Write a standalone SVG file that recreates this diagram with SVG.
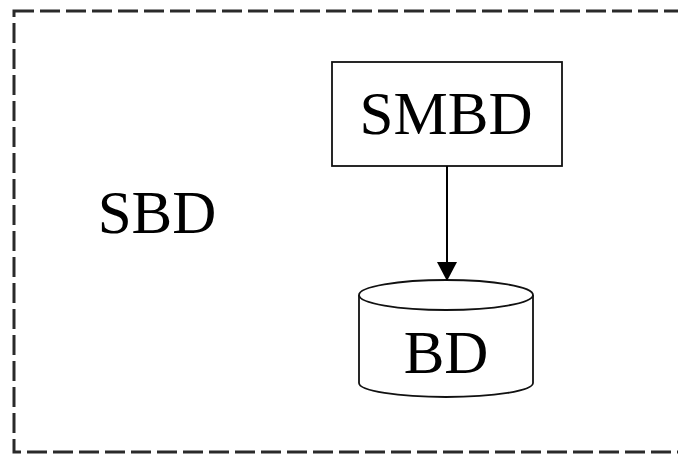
<svg xmlns="http://www.w3.org/2000/svg" width="678" height="454" viewBox="0 0 678 454">
<defs>
<style>
.lbl{font-family:"Liberation Serif","Times New Roman",serif;font-size:61px;fill:#000;text-anchor:middle}
.shape{fill:#fff;stroke:#111;stroke-width:1.8}
.conn{stroke:#000;stroke-width:2;fill:none}
</style>
<marker id="arrow" markerWidth="20" markerHeight="20" refX="18" refY="10" orient="auto" markerUnits="userSpaceOnUse">
<path d="M0,0 L19,10 L0,20 Z" fill="#000"/>
</marker>
</defs>
<rect width="678" height="454" fill="#fff"/>
<g id="SBD">
<rect x="14" y="11" width="680" height="441" fill="none" stroke="#2a2a2a" stroke-width="3" stroke-dasharray="20 6"/>
<text class="lbl" x="157" y="233">SBD</text>
</g>
<g id="SMBD">
<rect class="shape" x="332" y="62" width="230" height="104"/>
<text class="lbl" x="446" y="134">SMBD</text>
</g>
<g id="BD">
<path class="shape" d="M359,295 V383 A87,14 0 0 0 533,383 V295"/>
<ellipse class="shape" cx="446" cy="295" rx="87" ry="15"/>
<text class="lbl" x="446" y="373">BD</text>
</g>
<g id="connectors">
<line class="conn" x1="447" y1="166" x2="447" y2="280" marker-end="url(#arrow)"/>
</g>
</svg>
